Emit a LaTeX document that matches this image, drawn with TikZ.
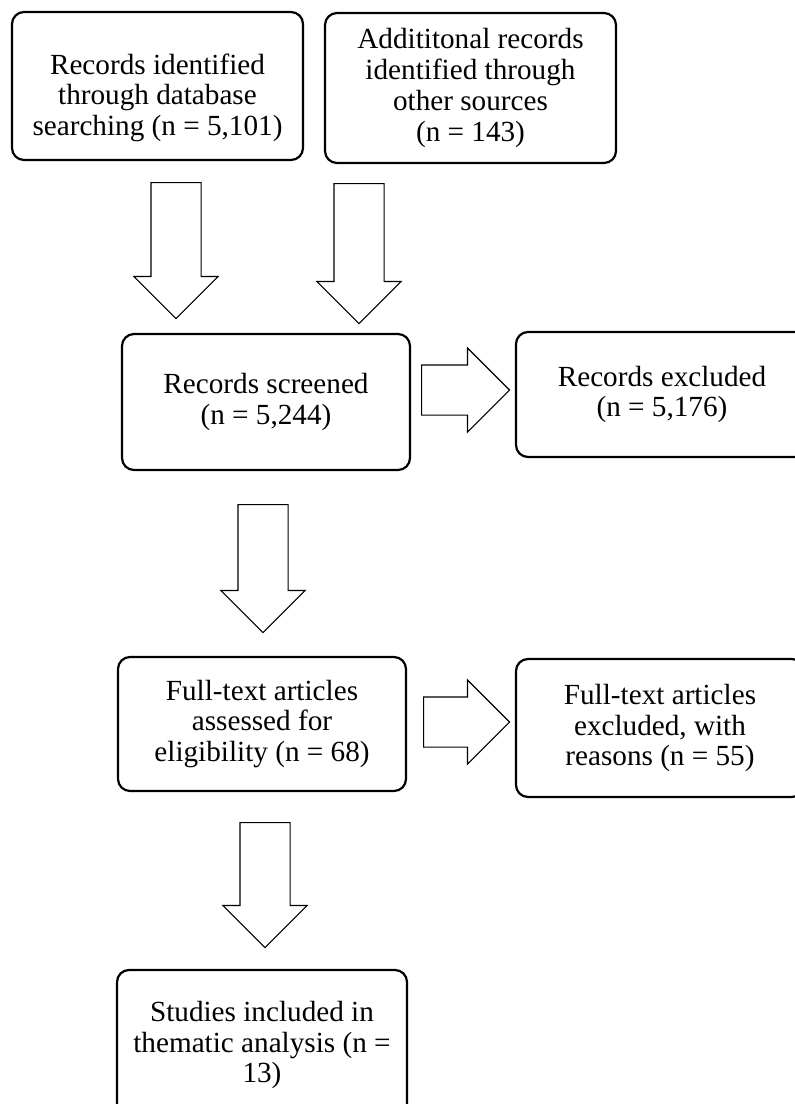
\documentclass[tikz,border=0pt]{standalone}
\usepackage{fontspec}
\setmainfont{Liberation Serif}
\usetikzlibrary{shapes.arrows}

\begin{document}
\begin{tikzpicture}[x=0.5pt,y=-0.5pt,stage node/.style={draw,line width=1.1pt,rounded corners=6pt,align=center,inner sep=0pt,font=\fontsize{14.6pt}{15.4pt}\selectfont},flow arrow/.style={single arrow,draw,line width=0.6pt,inner xsep=0pt,inner ysep=12.25pt,single arrow head extend=8.5pt,minimum width=41.5pt,single arrow tip angle=90,anchor=tail}]
  \useasboundingbox (0,0) rectangle (795,1104);

  \node[stage node,minimum width=145.5pt,minimum height=74pt] (database) at (157.5,86) {\rule{0pt}{22pt}Records identified\\through database\\searching (n = 5,101)};
  \node[stage node,minimum width=145.5pt,minimum height=75pt] (other) at (470.5,88) {Addititonal records\\identified through\\other sources\\(n = 143)};
  \node[stage node,minimum width=144pt,minimum height=68pt] (screened) at (266,402) {Records screened\\(n = 5,244)};
  \node[stage node,minimum width=146pt,minimum height=62.5pt] (excluded) at (662,394.5) {Records excluded\\(n = 5,176)};
  \node[stage node,minimum width=144pt,minimum height=67pt] (fulltext) at (262,724) {Full-text articles\\assessed for\\eligibility (n = 68)};
  \node[stage node,minimum width=144pt,minimum height=69pt] (reasons) at (660,728) {Full-text articles\\excluded, with\\reasons (n = 55)};
  \node[stage node,minimum width=145pt,minimum height=75pt] (included) at (262,1045) {Studies included in\\thematic analysis (n =\\13)};

  \node[flow arrow,rotate=-90,minimum height=68pt] (a1) at (176,182) {};
  \node[flow arrow,rotate=-90,minimum height=70pt] (a2) at (359,183) {};
  \node[flow arrow,minimum height=44pt] (a3) at (421,390) {};
  \node[flow arrow,rotate=-90,minimum height=64pt] (a4) at (263,504) {};
  \node[flow arrow,minimum height=43pt] (a5) at (423,722) {};
  \node[flow arrow,rotate=-90,minimum height=62.5pt] (a6) at (265,822) {};
\end{tikzpicture}
\end{document}
